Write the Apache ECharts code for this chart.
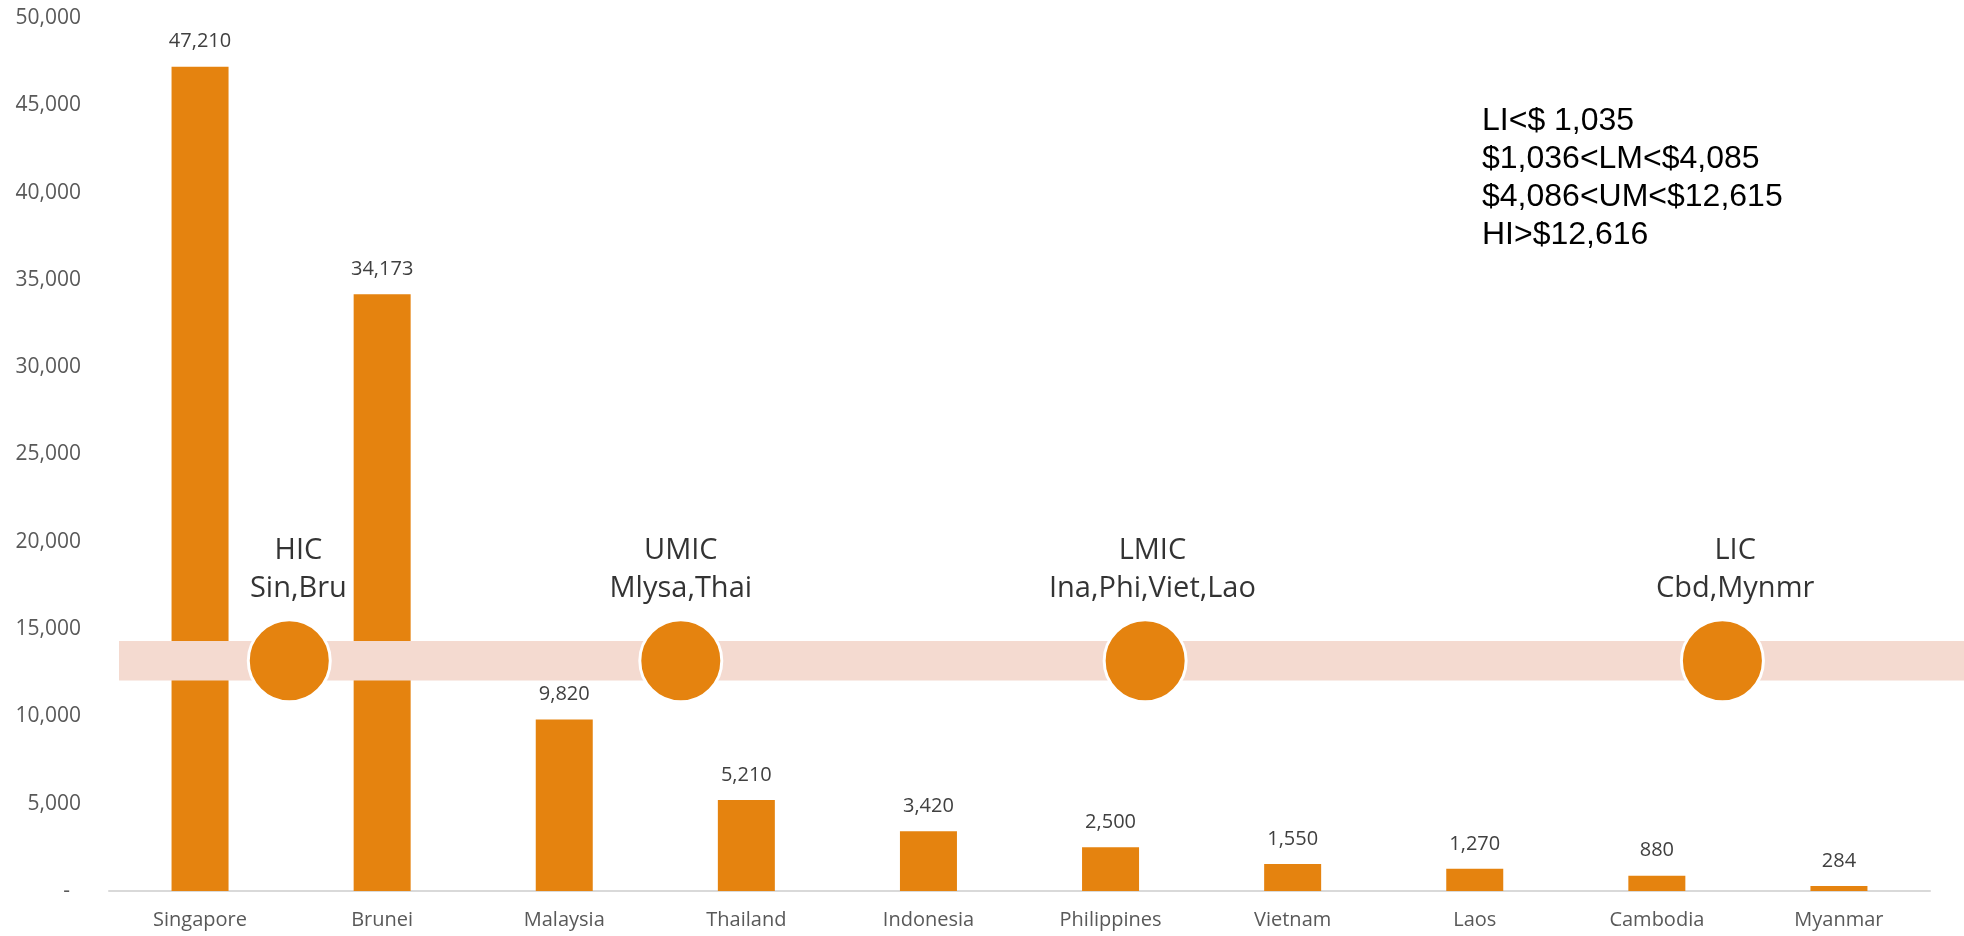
<!DOCTYPE html>
<html>
<head>
<meta charset="utf-8">
<script src="https://cdn.jsdelivr.net/npm/echarts@6/dist/echarts.min.js"></script>
<style>
  html, body { margin: 0; padding: 0; background: #ffffff; }
  #chart { width: 1964px; height: 936px; }
</style>
</head>
<body>
<div id="chart"></div>
<script>
// GNI per capita (US$) of ASEAN members
const countries = ['Singapore', 'Brunei', 'Malaysia', 'Thailand', 'Indonesia',
                   'Philippines', 'Vietnam', 'Laos', 'Cambodia', 'Myanmar'];
const gniPerCapita = [47210, 34173, 9820, 5210, 3420, 2500, 1550, 1270, 880, 284];

// Income-tier markers placed along the band (x in category units)
const tierNames = ['HIC\nSin,Bru', 'UMIC\nMlysa,Thai', 'LMIC\nIna,Phi,Viet,Lao', 'LIC\nCbd,Mynmr'];
const tierMarkerX = [0.49, 2.64, 5.19, 8.36];
const tierTextX = [0.54, 2.64, 5.23, 8.43];
const bandRange = [12050, 14320];

// World Bank income thresholds
const thresholdLines = ['LI<$ 1,035', '$1,036<LM<$4,085', '$4,086<UM<$12,615', 'HI>$12,616'];

const yTicks = { min: 0, max: 50000, interval: 5000 };

const bandMid = (bandRange[0] + bandRange[1]) / 2;
const ORANGE = '#E5830F';
const FONT = '"Open Sans", sans-serif';

const chart = echarts.init(document.getElementById('chart'), null, { renderer: 'canvas' });

chart.setOption({
  animation: false,
  backgroundColor: '#ffffff',
  grid: { left: 109, right: 34, top: 18, bottom: 45, containLabel: false },
  xAxis: [
    {
      type: 'category',
      data: countries,
      axisLine: { show: true, lineStyle: { color: '#D9D9D9', width: 2 } },
      axisTick: { show: false },
      axisLabel: { color: '#595959', fontFamily: FONT, fontSize: 20, margin: 19 },
      splitLine: { show: false }
    },
    {
      type: 'value',
      min: -0.5,
      max: 9.5,
      show: false
    }
  ],
  yAxis: {
    type: 'value',
    min: yTicks.min,
    max: yTicks.max,
    interval: yTicks.interval,
    axisLine: { show: false },
    axisTick: { show: false },
    splitLine: { show: false },
    axisLabel: {
      color: '#595959',
      fontFamily: FONT,
      fontSize: 21,
      margin: 28,
      formatter: v => v === 0 ? '-  ' : v.toLocaleString('en-US')
    }
  },
  series: [
    {
      type: 'bar',
      xAxisIndex: 0,
      data: gniPerCapita,
      barWidth: 57,
      itemStyle: { color: ORANGE },
      z: 2,
      label: {
        show: true,
        position: 'top',
        distance: 15,
        color: '#404040',
        fontFamily: FONT,
        fontSize: 20,
        formatter: p => p.value.toLocaleString('en-US')
      }
    },
    {
      // pale income band running across the plot
      type: 'custom',
      xAxisIndex: 1,
      z: 5,
      clip: false,
      data: [[-0.445, bandRange[0], bandRange[1]]],
      renderItem: (params, api) => {
        const p0 = api.coord([api.value(0), api.value(2)]);
        const p1 = api.coord([api.value(0), api.value(1)]);
        return {
          type: 'rect',
          shape: { x: p0[0], y: p0[1], width: api.getWidth() - p0[0], height: p1[1] - p0[1] },
          style: { fill: '#F4DAD0' }
        };
      }
    },
    {
      type: 'scatter',
      xAxisIndex: 1,
      z: 10,
      symbol: 'circle',
      symbolSize: 82,
      itemStyle: { color: ORANGE, borderColor: '#ffffff', borderWidth: 3, opacity: 1 },
      data: tierMarkerX.map(x => [x, bandMid])
    },
    {
      // tier captions sitting above the markers
      type: 'scatter',
      xAxisIndex: 1,
      z: 11,
      symbolSize: 82,
      itemStyle: { color: 'rgba(0,0,0,0)' },
      data: tierTextX.map((x, i) => ({ value: [x, bandMid], name: tierNames[i] })),
      label: {
        show: true,
        position: 'top',
        distance: 12,
        color: '#000000',
        fontFamily: FONT,
        fontSize: 29,
        lineHeight: 38,
        align: 'center',
        formatter: p => p.name
      }
    }
  ],
  graphic: [
    {
      type: 'text',
      left: 1482,
      top: 102,
      z: 20,
      style: {
        text: thresholdLines.join('\n'),
        fill: '#000000',
        font: '32px "Liberation Sans", Arial, sans-serif',
        lineHeight: 38
      }
    }
  ]
});
</script>
</body>
</html>
